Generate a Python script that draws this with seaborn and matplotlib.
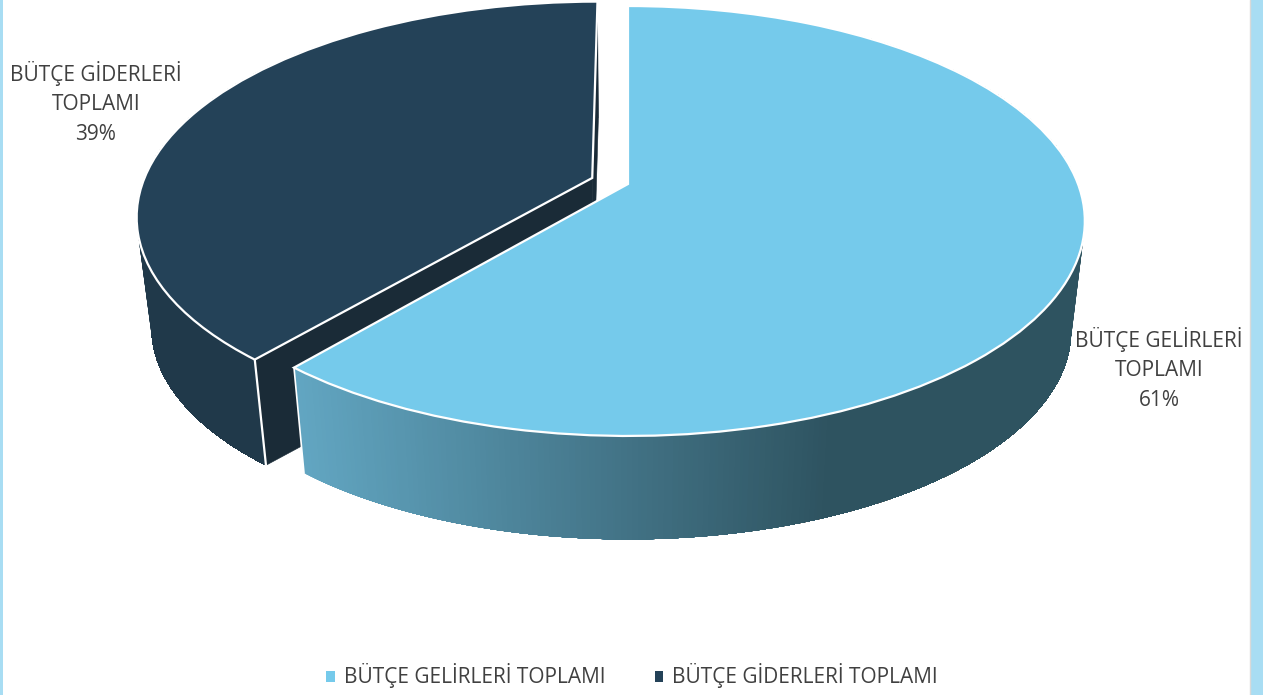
import numpy as np
import matplotlib
matplotlib.use("Agg")
import matplotlib.pyplot as plt
from matplotlib.colors import LinearSegmentedColormap
from matplotlib.patches import Patch
from matplotlib.transforms import Transform
import seaborn as sns

# ---- data
categories = ["BÜTÇE GELİRLERİ TOPLAMI", "BÜTÇE GİDERLERİ TOPLAMI"]
label_lines = ["BÜTÇE GELİRLERİ\nTOPLAMI", "BÜTÇE GİDERLERİ\nTOPLAMI"]
shares = [61.15, 38.85]
explode = [0.0, 0.085]

# ---- styles
top_colors = ["#75CAEB", "#244258"]
face_color = "#1A2B37"
dark_wall = "#20394A"
wall_cmap = LinearSegmentedColormap.from_list("wall", ["#62A6C2", "#2E5360"], N=1024)
strip_color = "#A8DDF3"
text_color = "#404040"

sns.set_theme(style="white")
plt.rcParams["font.family"] = ["Open Sans", "DejaVu Sans"]

W, H = 1263, 695
CX, CY_TOP, CY_BOT = 628.0, 184.0, 295.0
A, B, K, S_BOT = 450.0, 208.6, 0.172, 0.97


def project(u, v, bottom=False):
    """Perspective view of the unit pie disc, in figure pixels."""
    w = 1 + K * v
    s, cy = (S_BOT, CY_BOT) if bottom else (1.0, CY_TOP)
    return CX + s * A * u / w, cy - s * B * v / w


class Perspective(Transform):
    input_dims = output_dims = 2
    is_separable = False

    def transform_non_affine(self, values):
        values = np.asarray(values, float)
        return np.column_stack(project(values[:, 0], values[:, 1]))


fig = plt.figure(figsize=(W / 100, H / 100), dpi=100, facecolor="white")
ax = fig.add_axes([0, 0, 1, 1])

wedges, _ = ax.pie(shares, explode=explode, startangle=90, counterclock=False,
                   colors=top_colors, radius=1,
                   wedgeprops=dict(edgecolor="white", linewidth=1.6))
ax.set_aspect("auto")
ax.set_xlim(0, W)
ax.set_ylim(H, 0)
ax.axis("off")

persp = Perspective() + ax.transData
for wd, z in zip(wedges, (8, 5)):
    wd.set_transform(persp)
    wd.set_zorder(z)


def rim(wedge, t, bottom=False):
    cu, cv = wedge.center
    return project(cu + np.cos(t), cv + np.sin(t), bottom)


def side_face(wedge, t, z, color=face_color):
    cu, cv = wedge.center
    xa, ya = project(cu, cv)
    xb, yb = project(cu, cv, True)
    x1, y1 = rim(wedge, t)
    x2, y2 = rim(wedge, t, True)
    ax.fill([xa, x1, x2, xb], [ya, y1, y2, yb], color=color, lw=0.4, zorder=z)


def wall(wedge, z, colorfn, steps):
    # Overlapping bands painted in order, so that no seams appear between them
    ts = np.radians(np.linspace(wedge.theta1, wedge.theta2, 721))
    xu, yu = rim(wedge, ts)
    xl, yl = rim(wedge, ts, True)
    starts = np.linspace(0, len(ts) - 2, steps).astype(int)
    for i in starts:
        ax.fill(np.r_[xu[i:], xl[i:][::-1]], np.r_[yu[i:], yl[i:][::-1]],
                color=colorfn(xu[i]), lw=0, zorder=z)


light, dark = wedges
# dark slice: outer wall, then the two cut faces
wall(dark, 2, lambda x: dark_wall, 240)
t_back, t_front = np.radians(dark.theta1), np.radians(dark.theta2)
side_face(dark, t_back, 3)
side_face(dark, t_front, 3)
x1, y1 = rim(dark, t_front)
x2, y2 = rim(dark, t_front, True)
ax.plot([x1, x2], [y1, y2], color="white", lw=1.6, zorder=4)

# light slice: gradient wall
wall(light, 6, lambda x: wall_cmap(np.clip((x - 292) / (830 - 292), 0, 1)), 400)
x1, y1 = rim(light, np.radians(light.theta1))
x2, y2 = rim(light, np.radians(light.theta1), True)
ax.plot([x1, x2], [y1, y2], color="white", lw=1.2, zorder=7)

# slide edges
ax.axvspan(0, 3, color=strip_color, lw=0, zorder=0)
ax.axvspan(1250, W, color=strip_color, lw=0, zorder=0)
ax.axvline(1249.5, color="#D9D9D9", lw=1, zorder=0)

# data labels
total = sum(shares)
positions = [(1159, 369), (96, 103)]
for txt, val, (px, py) in zip(label_lines, shares, positions):
    ax.text(px, py, f"{txt}\n{val / total:.0%}", ha="center", va="center",
            fontsize=15, color=text_color, linespacing=1.52, zorder=10)

handles = [Patch(facecolor=c, edgecolor="none") for c in top_colors]
ax.legend(handles, categories, loc="center", bbox_to_anchor=(632 / W, 1 - 676 / H),
          ncol=2, frameon=False, fontsize=15, labelcolor=text_color,
          handlelength=0.43, handleheight=0.43, handletextpad=0.4, columnspacing=2.36,
          borderpad=0, borderaxespad=0)

fig.savefig("out.png", dpi=100)
